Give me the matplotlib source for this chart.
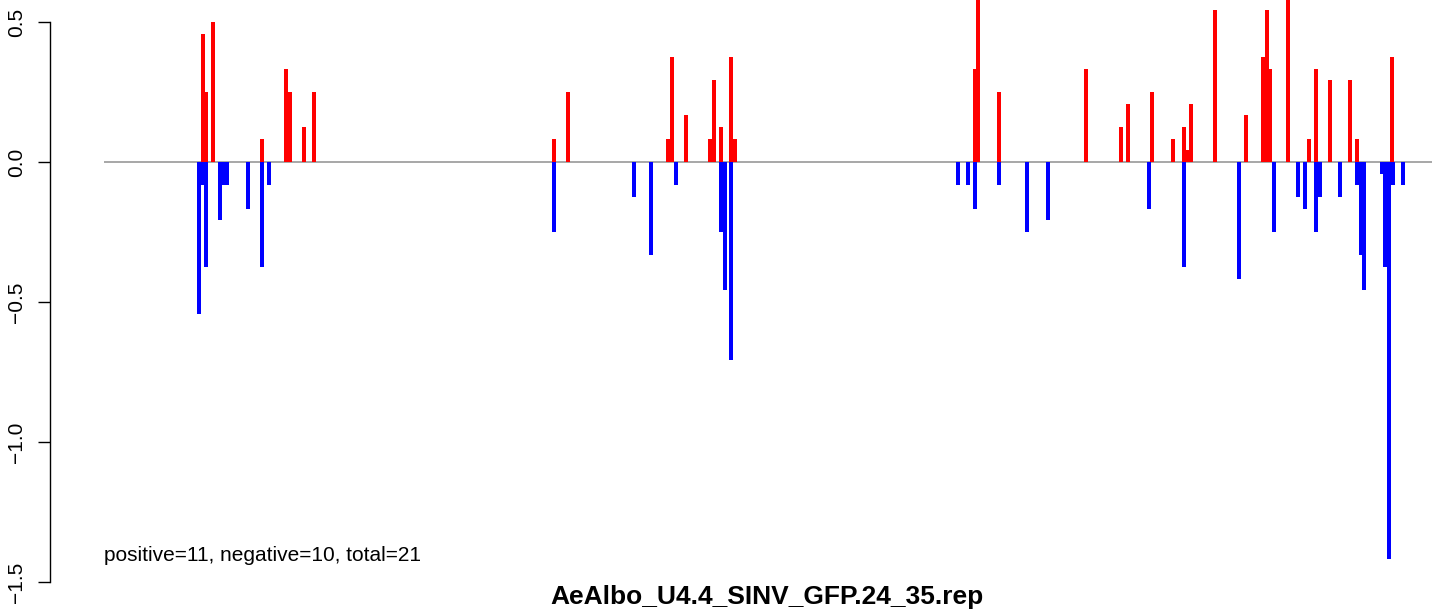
import matplotlib
matplotlib.use("Agg")
import matplotlib.pyplot as plt

plt.rcParams['font.family'] = ['Liberation Sans', 'DejaVu Sans']

# posicoes e valores
pos_pos = [203, 206, 213, 262, 286, 290, 304, 314,
           554, 568, 668, 672, 686, 710, 714, 721, 731, 735,
           975, 978, 999, 1086, 1121, 1128, 1152, 1173, 1184, 1187, 1191, 1215,
           1246, 1263, 1267, 1270, 1288, 1309, 1316, 1330, 1350, 1357, 1392]
val_pos = [0.458, 0.25, 0.5, 0.083, 0.333, 0.25, 0.125, 0.25,
           0.083, 0.25, 0.083, 0.375, 0.167, 0.083, 0.292, 0.125, 0.375, 0.083,
           0.333, 0.625, 0.25, 0.333, 0.125, 0.208, 0.25, 0.083, 0.125, 0.042, 0.208, 0.542,
           0.167, 0.375, 0.542, 0.333, 0.625, 0.083, 0.333, 0.292, 0.292, 0.083, 0.375]

pos_neg = [199, 202, 206, 220, 224, 227, 248, 262, 269,
           554, 634, 651, 676, 721, 725, 731,
           958, 968, 975, 999, 1027, 1048, 1149, 1184, 1239,
           1274, 1298, 1305, 1316, 1320, 1340, 1357, 1361, 1364,
           1382, 1385, 1389, 1393, 1403]
val_neg = [-0.542, -0.083, -0.375, -0.208, -0.083, -0.083, -0.167, -0.375, -0.083,
           -0.25, -0.125, -0.333, -0.083, -0.25, -0.458, -0.708,
           -0.083, -0.083, -0.167, -0.083, -0.25, -0.208, -0.167, -0.375, -0.417,
           -0.25, -0.125, -0.167, -0.25, -0.125, -0.125, -0.083, -0.333, -0.458,
           -0.042, -0.375, -1.417, -0.083, -0.083]

x_ini, x_fim = 104, 1432
y_ticks = [-1.5, -1.0, -0.5, 0.0, 0.5]
texto = "positive=11, negative=10, total=21"
titulo = "AeAlbo_U4.4_SINV_GFP.24_35.rep"

W, H = 1444, 610
fig = plt.figure(figsize=(W / 100, H / 100), dpi=100)
ax = fig.add_axes([50 / W, 1 - 590 / H, 1 - 50 / W, 590 / H])

ax.hlines(0, x_ini, x_fim, color='#a0a0a0', lw=1.3, zorder=1)
ax.bar(pos_pos, val_pos, width=4, color='red', linewidth=0, zorder=2)
ax.bar(pos_neg, val_neg, width=4, color='blue', linewidth=0, zorder=2)

ax.set_xlim(50, 1444)
ax.set_ylim((162 - 590) / 280, 162 / 280)

for s in ['top', 'right', 'bottom']:
    ax.spines[s].set_visible(False)
ax.spines['left'].set_bounds(-1.5, 0.5)
ax.spines['left'].set_linewidth(1.0)
ax.set_xticks([])
ax.set_yticks(y_ticks)
ax.set_yticklabels(['\u22121.5', '\u22121.0', '\u22120.5', '0.0', '0.5'],
                   rotation=90, va='center', fontsize=15)
ax.tick_params(axis='y', length=9, width=1.0, pad=8)

ax.text(104, (162 - 561) / 280, texto, fontsize=15, va='baseline', ha='left')
fig.text(767 / W, 1 - 604 / H, titulo, fontsize=19, fontweight='bold',
         ha='center', va='baseline')

fig.savefig('out.png', dpi=100)
